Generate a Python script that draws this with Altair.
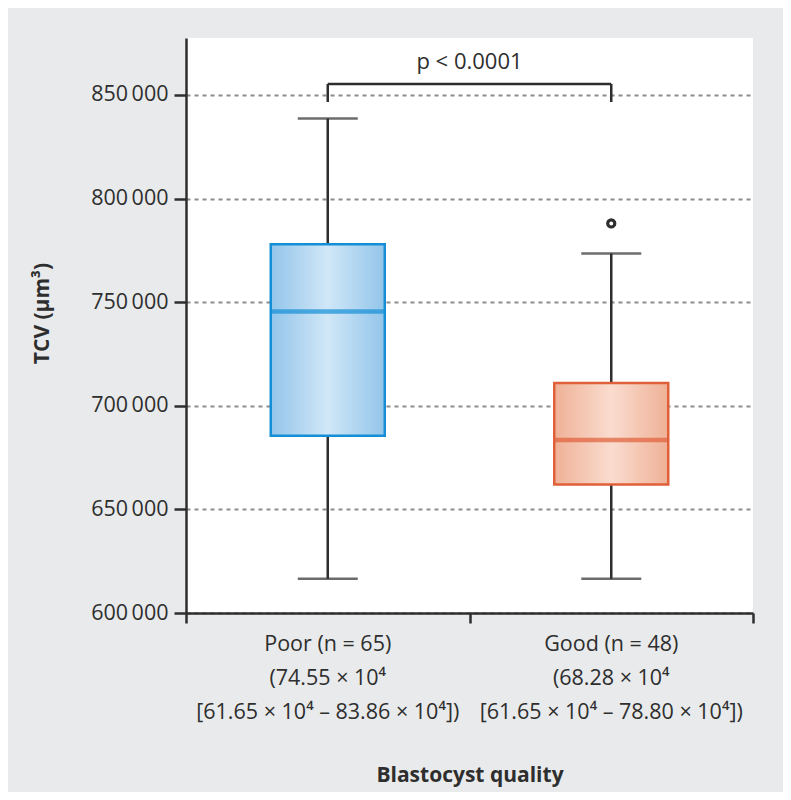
import altair as alt
import pandas as pd

# ---- data ----
cats = ["Poor", "Good"]
whisk_lo = [616500, 616500]
q1 = [685500, 662000]
median = [745500, 683500]
q3 = [778000, 711000]
whisk_hi = [838600, 773500]
out_cat = ["Good"]
out_val = [788000]
y_ticks = [600000, 650000, 700000, 750000, 800000, 850000]
label_lines = {
    "Poor": ["Poor (n = 65)", "(74.55 × 10⁴", "[61.65 × 10⁴ \u2013 83.86 × 10⁴])"],
    "Good": ["Good (n = 48)", "(68.28 × 10⁴", "[61.65 × 10⁴ \u2013 78.80 × 10⁴])"],
}
p_text = "p < 0.0001"
bracket_y = 855300
bracket_drop = 846600
p_y = 866000
band_edges = [0, 1, 2]

FONT = "Open Sans, sans-serif"
DARK = "#2e2e2e"

box_df = pd.DataFrame({"cat": cats, "lo": whisk_lo, "q1": q1, "med": median, "q3": q3, "hi": whisk_hi})
out_df = pd.DataFrame({"cat": out_cat, "val": out_val})
br_df = pd.DataFrame({"a": [cats[0]], "b": [cats[1]], "y": [bracket_y]})
drop_df = pd.DataFrame({"cat": cats, "y1": [bracket_drop] * 2, "y2": [bracket_y] * 2})
ptxt_df = pd.DataFrame({"t": [p_text], "y": [p_y]})
edge_df = pd.DataFrame({"e": band_edges, "y": [600000] * 3})

def js_arr(lines):
    return "[" + ",".join("'" + l + "'" for l in lines) + "]"

label_expr = "datum.value == 'Poor' ? " + js_arr(label_lines["Poor"]) + " : " + js_arr(label_lines["Good"])

x_axis = alt.Axis(
    title="Blastocyst quality", labelExpr=label_expr, labelAngle=0, labelLimit=0,
    ticks=False, domainColor=DARK, domainWidth=2.5,
    labelFont=FONT, labelFontSize=21.5, labelColor=DARK, labelLineHeight=34, labelPadding=20,
    titleFont=FONT, titleFontSize=21, titleFontWeight="bold", titleColor=DARK,
    titleY=162, titleBaseline="middle", grid=False,
)
y_axis = alt.Axis(
    title="TCV (μm³)", values=y_ticks,
    labelExpr="replace(format(datum.value, ',d'), ',', '\u2009')",
    tickSize=12, tickWidth=2.5, tickColor=DARK, domainColor=DARK, domainWidth=2.5,
    labelFont=FONT, labelFontSize=21.5, labelColor=DARK, labelPadding=6,
    grid=True, gridDash=[4, 4], gridColor="#8c8c8c", gridWidth=2,
    titleFont=FONT, titleFontSize=21, titleFontWeight="bold", titleColor=DARK,
    titleX=-144, titleY=275, titleAngle=-90, titleBaseline="middle", titleAlign="center",
)
xscale = alt.Scale(domain=cats, paddingInner=0, paddingOuter=0)

def Xf(f):
    return alt.X(f, type="nominal", sort=cats, scale=xscale, axis=x_axis)

X = Xf("cat")
yscale = alt.Scale(domain=[600000, 877500], nice=False, zero=False)

def Y(f):
    return alt.Y(f, type="quantitative", scale=yscale, axis=y_axis)

base = alt.Chart(box_df)

whisk = base.mark_rule(color=DARK, strokeWidth=2.5).encode(x=X, y=Y("lo"), y2="hi")
cap_lo = base.mark_tick(color=DARK, size=60, thickness=2.5, orient="horizontal").encode(x=X, y=Y("lo"))
cap_hi = base.mark_tick(color=DARK, size=60, thickness=2.5, orient="horizontal").encode(x=X, y=Y("hi"))

def grad(edge, mid):
    return alt.Gradient(
        gradient="linear", x1=0, x2=1, y1=0, y2=0,
        stops=[alt.GradientStop(color=edge, offset=0), alt.GradientStop(color=mid, offset=0.5),
               alt.GradientStop(color=edge, offset=1)],
    )

styles = {"Poor": ("#93c5ea", "#d0e7f7", "#148fd6"), "Good": ("#efb196", "#fadccf", "#e0603a")}
layers = [whisk, cap_lo, cap_hi]
for c in cats:
    edge, mid, stroke = styles[c]
    sub = base.transform_filter(alt.datum.cat == c)
    layers.append(sub.mark_bar(size=114, color=grad(edge, mid), stroke=stroke, strokeWidth=2.5)
                  .encode(x=X, y=Y("q1"), y2="q3"))
    layers.append(sub.mark_tick(size=114, thickness=4.5, color=stroke, orient="horizontal")
                  .encode(x=X, y=Y("med")))

outl = alt.Chart(out_df).mark_point(shape="circle", size=50, strokeWidth=3.2, color=DARK,
                                    filled=False, opacity=1).encode(x=X, y=Y("val"))
br_h = alt.Chart(br_df).mark_rule(color=DARK, strokeWidth=2.5).encode(x=Xf("a"), x2="b", y=Y("y"))
br_v = alt.Chart(drop_df).mark_rule(color=DARK, strokeWidth=2.5).encode(x=X, y=Y("y1"), y2="y2")
ptxt = alt.Chart(ptxt_df).mark_text(font=FONT, fontSize=22, color=DARK, baseline="middle").encode(
    x=alt.value(283.5), y=Y("y"), text="t:N")

layers += [outl, br_h, br_v, ptxt]
main = alt.layer(*layers)

# band-boundary tick marks on the x axis (second, label-free axis)
edge_axis = alt.Axis(orient="bottom", values=band_edges, labels=False, domain=False, grid=False,
                     tickSize=10, tickWidth=2.5, tickColor=DARK, title=None)
edges = alt.Chart(edge_df).mark_point(opacity=0).encode(
    x=alt.X("e:Q", scale=alt.Scale(domain=[0, 2], nice=False, zero=False), axis=edge_axis),
    y=Y("y"),
)

chart = alt.layer(main, edges).resolve_scale(x="independent").properties(
    width=567, height=575,
    autosize=alt.AutoSizeParams(type="none"),
    padding={"left": 178, "top": 30, "right": 30, "bottom": 179},
    background="#e9eaeb",
).configure_view(fill="white", stroke=None)

chart.save("out.html", embed_options={"renderer": "svg", "actions": False})
